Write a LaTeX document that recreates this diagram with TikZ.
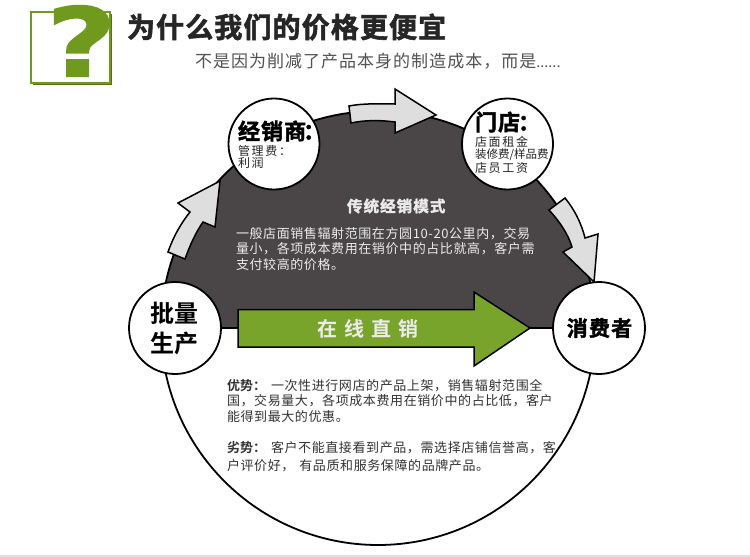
\documentclass[tikz,border=0pt]{standalone}
\usepackage{fontspec}
\setmainfont{Noto Sans CJK SC}
\newfontfamily\cjkreg{Noto Sans CJK SC}
\newfontfamily\cjkbold{Noto Sans CJK SC Bold}
\newfontfamily\cjkheavy{Noto Sans CJK SC Bold}[FakeBold=2]
\newfontfamily\qfont{DejaVu Sans Bold}[FakeBold=1.5]
\definecolor{darkfill}{HTML}{4A4648}
\definecolor{grn}{HTML}{78A42C}
\definecolor{grnb}{HTML}{6F9A1E}
\definecolor{grnd}{HTML}{567018}
\definecolor{grayarrow}{HTML}{DEDEDE}
\definecolor{txtgray}{HTML}{333333}
\tikzset{
  lbl/.style={anchor=west,inner sep=0pt,outer sep=0pt},
  ctr/.style={anchor=center,inner sep=0pt,outer sep=0pt},
  dot/.style={circle,draw=black,fill=white,line width=1.8pt,minimum size=#1,inner sep=0pt},
  garrow/.style={draw=black,fill=grayarrow,line width=1.5pt,line join=miter},
  small/.style={lbl,font=\fontsize{12}{12}\cjkreg\addfontfeature{LetterSpace=14},text=txtgray!70!black},
  body/.style={lbl,font=\fontsize{13}{13}\cjkreg\addfontfeature{LetterSpace=4.6},text=txtgray},
  bodyw/.style={lbl,font=\fontsize{13}{13}\cjkreg\addfontfeature{LetterSpace=4.6},text=white!92!black},
  head/.style={lbl,font=\fontsize{22}{22}\cjkheavy\addfontfeature{LetterSpace=5},text=black},
}
\begin{document}
\begin{tikzpicture}[x=1pt,y=-1pt]
\useasboundingbox (0,0) rectangle (750,557);
\fill[white] (0,0) rectangle (750,557);
\fill[gray!25] (0,555) rectangle (750,557);
% question box
\fill[grnd] (33,14) rectangle (112,85);
\draw[fill=white,draw=grnb,line width=1.5pt] (31,12) rectangle (110,83);
\node[ctr,text=grnb,font=\fontsize{104}{104}\qfont] (q) at (81.5,41) {\scalebox{1.16}[0.92]{?}};
% title
\node[lbl,font=\fontsize{28}{28}\cjkheavy\addfontfeature{LetterSpace=4},text=black!85] (title) at (127,27) {为什么我们的价格更便宜};
\node[lbl,font=\fontsize{17}{17}\cjkreg\addfontfeature{LetterSpace=6},text=txtgray!85] (sub) at (195,61) {不是因为削减了产品本身的制造成本，而是{\fontsize{14.5}{14.5}\selectfont\addfontfeature{LetterSpace=0}......}};
% big circle
\coordinate (C) at (378,328);
\begin{scope}
  \clip (0,0) rectangle (750,328);
  \draw[fill=darkfill,draw=black,line width=1.8pt] (C) circle[radius=217pt];
\end{scope}
\begin{scope}
  \clip (0,328) rectangle (750,557);
  \draw[draw=black,line width=1.8pt] (C) circle[radius=217pt];
\end{scope}
% gray arrows
\draw[garrow] (168,252) .. controls (174,235) and (182,222) .. (190,212) -- (178,203) -- (220,181) -- (215,227) -- (203,222) .. controls (196,232) and (190,245) .. (185,259) -- cycle;
\draw[garrow] (349,106) .. controls (365,103) and (380,104) .. (395,104) -- (395,89) -- (436,115) -- (395,133) -- (395,122) .. controls (380,120) and (365,120) .. (351,123) -- cycle;
\draw[garrow] (549,210) -- (565,198) .. controls (574,209) and (581,222) .. (585,238) -- (598,234) -- (594,282) -- (563,252) -- (572,247) .. controls (568,234) and (560,222) .. (549,210) -- cycle;
% nodes
\node[dot=92pt] (pl) at (175,328) {};
\node[dot=92pt] (xf) at (599,328) {};
\node[dot=91pt] (jx) at (274,144) {};
\node[dot=91pt] (md) at (507.5,144) {};
\draw[black,line width=1.8pt] (pl.east) -- (xf.west);
% green arrow
\draw[fill=grn,draw=black,line width=1.5pt,line join=miter] (238,309.5) -- (474,309.5) -- (474,292) -- (530,328) -- (474,366) -- (474,347) -- (238,347) -- cycle;
\node[lbl,font=\fontsize{20}{20}\cjkbold\addfontfeature{LetterSpace=35},text=white!92!black] (zx) at (317,329) {在线直销};
% circle labels
\node[head] (t1) at (238,131) {经销商\hspace{-3pt}：};
\node[small] (t2) at (238,151) {管理费：};
\node[small] (t3) at (238,163) {利润};
\node[head] (t4) at (475,122) {门店\hspace{-2pt}：};
\node[small] (t5) at (475,142) {店面租金};
\node[lbl,font=\fontsize{11.5}{11.5}\cjkreg,text=txtgray!70!black] (t6) at (475,155) {装修费/样品费};
\node[small] (t7) at (475,168) {店员工资};
\node[lbl,font=\fontsize{24}{24}\cjkbold,text=black] (t8) at (150,313) {批量};
\node[lbl,font=\fontsize{24}{24}\cjkbold,text=black] (t9) at (150,343) {生产};
\node[ctr,font=\fontsize{21}{21}\cjkheavy\addfontfeature{LetterSpace=6},text=black] (t10) at (599.5,328) {消费者};
% dark text
\node[lbl,font=\fontsize{15.5}{15.5}\cjkheavy\addfontfeature{LetterSpace=7},text=white!92!black] (d0) at (347,206) {传统经销模式};
\node[bodyw] (d1) at (236,234) {一般店面销售辐射范围在方圆10-20公里内，交易};
\node[bodyw] (d2) at (236,249) {量小，各项成本费用在销价中的占比就高，客户需};
\node[bodyw] (d3) at (236,265) {支付较高的价格。};
% lower text
\node[body] (b1) at (227,386) {{\cjkbold 优势：}\hspace{5pt}一次性进行网店的产品上架，销售辐射范围全};
\node[body] (b2) at (227,401) {国，交易量大，各项成本费用在销价中的占比低，客户};
\node[body] (b3) at (227,417) {能得到最大的优惠。};
\node[body] (b4) at (227,448) {{\cjkbold 劣势：}\hspace{5pt}客户不能直接看到产品，需选择店铺信誉高，客};
\node[body] (b5) at (227,466) {户评价好，\hspace{5pt}有品质和服务保障的品牌产品。};
\end{tikzpicture}
\end{document}
